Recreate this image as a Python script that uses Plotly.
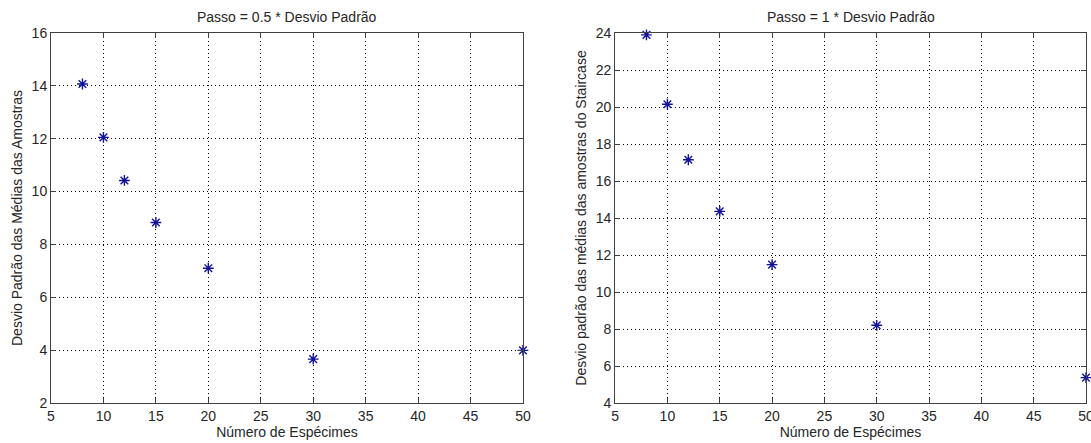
import plotly.graph_objects as go

# Número de espécimes avaliados em cada ensaio
especimes = [8, 10, 12, 15, 20, 30, 50]

# Desvio padrão das médias para passo = 0.5 * desvio padrão
desvio_passo_05 = [14.07, 12.05, 10.42, 8.83, 7.10, 3.66, 3.99]

# Desvio padrão das médias do Staircase para passo = 1 * desvio padrão
desvio_passo_1 = [23.90, 20.15, 17.15, 14.36, 11.48, 8.20, 5.37]

titulos = ["Passo = 0.5 * Desvio Padrão", "Passo = 1 * Desvio Padrão"]
titulo_x = "Número de Espécimes"
titulos_y = ["Desvio Padrão das Médias das Amostras",
             "Desvio padrão das médias das amostras do Staircase"]
faixas_y = [[2, 16], [4, 24]]

FONT = "Liberation Sans, Arial, sans-serif"
TXT = "#262626"
AXC = "#404040"
MARK = "#12129a"

fig = go.Figure()

series = [desvio_passo_05, desvio_passo_1]
dominios = [[0.0, 0.456], [0.545, 1.0]]
standoffs_y = [5, 5]

for i, ys in enumerate(series):
    sfx = "" if i == 0 else str(i + 1)
    fig.add_trace(go.Scatter(
        x=especimes, y=ys, mode="markers",
        xaxis="x" + sfx, yaxis="y" + sfx,
        marker=dict(symbol="asterisk-open", size=9,
                    line=dict(color=MARK, width=1.4), color=MARK),
        cliponaxis=False, showlegend=False,
    ))

    eixo_comum = dict(
        showline=True, linecolor=AXC, linewidth=1, mirror="ticks",
        ticks="inside", ticklen=5, tickcolor=AXC, tickwidth=1,
        showgrid=True, gridcolor="#000000", gridwidth=1, griddash="1px,3px",
        zeroline=False, tickfont=dict(family=FONT, size=14, color=TXT),
        ticklabeloverflow="allow", automargin=False,
    )
    fig.update_layout(**{
        "xaxis" + sfx: dict(
            eixo_comum, domain=dominios[i], range=[5, 50], dtick=5, tick0=5,
            anchor="y" + sfx,
            title=dict(text=titulo_x, standoff=4,
                       font=dict(family=FONT, size=14, color=TXT)),
        ),
        "yaxis" + sfx: dict(
            eixo_comum, domain=[0, 1], range=faixas_y[i], dtick=2,
            anchor="x" + sfx,
            title=dict(text=titulos_y[i], standoff=standoffs_y[i],
                       font=dict(family=FONT, size=14, color=TXT)),
        ),
    })
    fig.add_annotation(
        text=titulos[i], xref="x" + sfx + " domain", yref="paper",
        x=0.5, y=1, xanchor="center", yanchor="bottom", yshift=6,
        showarrow=False, font=dict(family=FONT, size=14, color=TXT),
    )

fig.update_layout(
    width=1091, height=443,
    margin=dict(l=51, r=5, t=33, b=40),
    paper_bgcolor="white", plot_bgcolor="white",
)

fig.write_html("out.html")
